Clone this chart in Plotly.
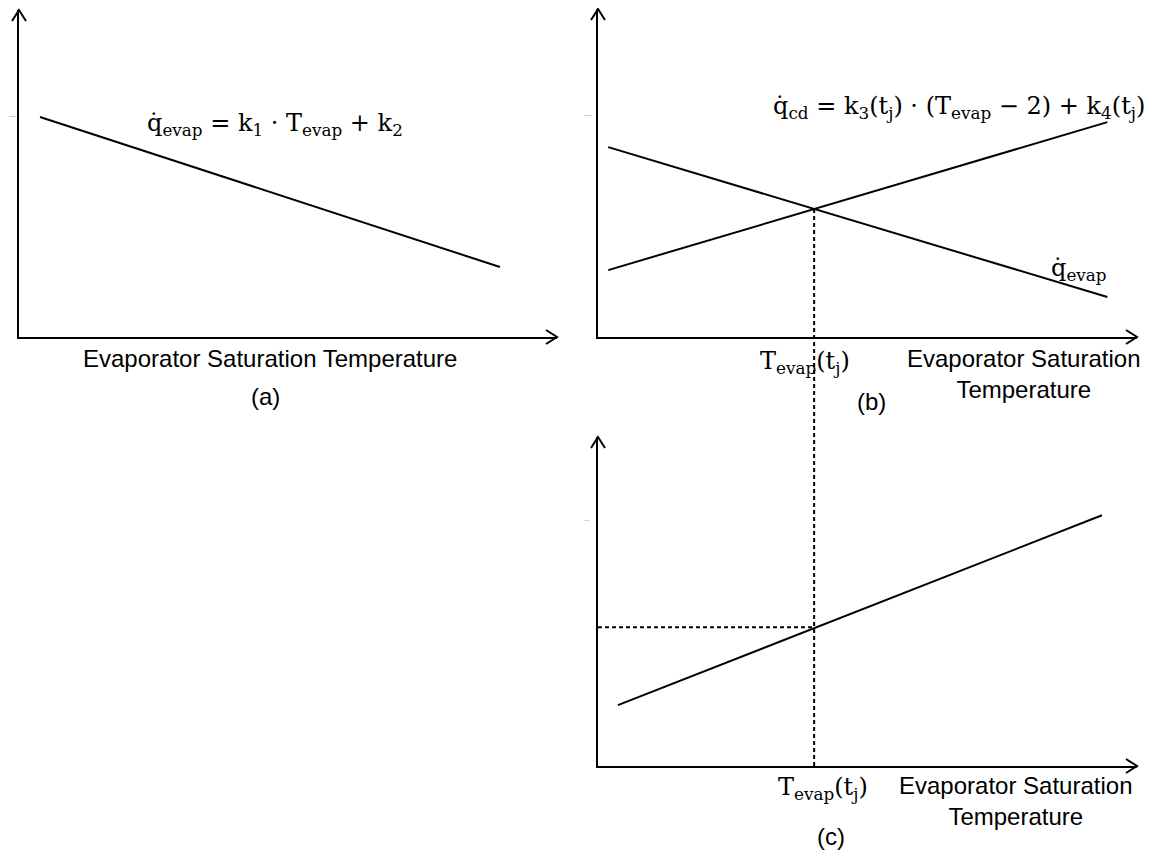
import plotly.graph_objects as go

# the page body adds an 8px margin, so the figure is drawn 8px in from the window corner
OFF = 8
W, H = 1156 - OFF, 850 - OFF

# values in arbitrary units (0-10 on both axes of every panel)
temp_a = [0.39, 8.94]
q_evap_a = [6.73, 2.14]

temp_b = [0.19, 9.45]
q_evap_b = [5.79, 1.22]
q_cd_b = [2.04, 6.55]

temp_c = [0.37, 9.35]
power_c = [1.85, 7.62]

t_j = 4.01   # balance point temperature
q_j = 3.90   # capacity at balance point
p_j = 4.22   # power at balance point

# panel frames in window pixels: left, right (x arrow tip), bottom, top (y arrow tip)
frames = {"a": (19, 557, 337, 10), "b": (598, 1137, 337, 9), "c": (598, 1137, 766, 437)}
axis_ids = {"a": ("x", "y"), "b": ("x2", "y2"), "c": ("x3", "y3")}
RNG = 10.0

SERIF = "DejaVu Serif"
SANS = "Liberation Sans"


def pp(x, y):
    # window pixel -> paper
    return (x - OFF) / W, 1 - (y - OFF) / H


def data_to_paper(panel, xv, yv):
    l, r, b, t = frames[panel]
    return pp(l + (r - l) * xv / RNG, b - (b - t) * yv / RNG)


fig = go.Figure()

line = dict(color="black", width=2)
fig.add_trace(go.Scatter(x=temp_a, y=q_evap_a, mode="lines", line=line, xaxis="x", yaxis="y"))
fig.add_trace(go.Scatter(x=temp_b, y=q_evap_b, mode="lines", line=line, xaxis="x2", yaxis="y2"))
fig.add_trace(go.Scatter(x=temp_b, y=q_cd_b, mode="lines", line=line, xaxis="x2", yaxis="y2"))
fig.add_trace(go.Scatter(x=temp_c, y=power_c, mode="lines", line=line, xaxis="x3", yaxis="y3"))

axis_style = dict(range=[0, RNG], showline=True, linecolor="black", linewidth=2,
                  showgrid=False, zeroline=False, showticklabels=False, ticks="",
                  fixedrange=True)
layout = {}
shapes = []
for k, (l, r, b, t) in frames.items():
    xa, ya = axis_ids[k]
    xkey = "xaxis" if xa == "x" else "xaxis" + xa[1:]
    ykey = "yaxis" if ya == "y" else "yaxis" + ya[1:]
    x0, y0 = pp(l, b)
    x1, y1 = pp(r, t)
    layout[xkey] = dict(axis_style, domain=[x0, x1], anchor=ya)
    layout[ykey] = dict(axis_style, domain=[y0, y1], anchor=xa)
    # open arrow heads at the axis tips
    for pts in ([(r - 11, b - 7), (r, b), (r - 11, b + 7)],
                [(l - 7, t + 11), (l, t), (l + 7, t + 11)]):
        p = [pp(*q) for q in pts]
        path = "M {} {} L {} {} L {} {}".format(p[0][0], p[0][1], p[1][0], p[1][1], p[2][0], p[2][1])
        shapes.append(dict(type="path", path=path, xref="paper", yref="paper",
                           line=dict(color="black", width=2)))

dash = dict(color="black", width=2, dash="4px,3px")
# vertical dashed from the intersection in (b) down to the axis in (c)
xv, ytop = data_to_paper("b", t_j, q_j)
_, ybot = data_to_paper("c", t_j, 0)
shapes.append(dict(type="line", xref="paper", yref="paper", x0=xv, x1=xv, y0=ybot, y1=ytop, line=dash))
# horizontal dashed in (c)
shapes.append(dict(type="line", xref="x3", yref="y3", x0=0, x1=t_j, y0=p_j, y1=p_j, line=dash))

annotations = []


def note(text, x, y, size, family, xanchor="center", color="black"):
    px_, py_ = pp(x, y)
    annotations.append(dict(text=text, x=px_, y=py_, xref="paper", yref="paper",
                            xanchor=xanchor, yanchor="middle", showarrow=False,
                            font=dict(size=size, family=family, color=color)))


qdot = "q\u0307"
note(qdot + "<sub>evap</sub> = k<sub>1</sub> \u00b7 T<sub>evap</sub> + k<sub>2</sub>",
     145, 124, 24, SERIF, "left")
note(qdot + "<sub>cd</sub> = k<sub>3</sub>(t<sub>j</sub>) \u00b7 (T<sub>evap</sub> \u2212 2) + k<sub>4</sub>(t<sub>j</sub>)",
     771, 107, 24, SERIF, "left")
note(qdot + "<sub>evap</sub>", 1049, 270, 24, SERIF, "left")
note("T<sub>evap</sub>(t<sub>j</sub>)", 758, 362, 24, SERIF, "left")
note("T<sub>evap</sub>(t<sub>j</sub>)", 776, 788, 24, SERIF, "left")

note("Evaporator Saturation Temperature", 270, 359, 24, SANS)
note("(a)", 265, 396, 24, SANS)
note("Evaporator Saturation<br>Temperature", 905, 374, 24, SANS, "left")
note("(b)", 871, 401, 24, SANS)
note("Evaporator Saturation<br>Temperature", 897, 801, 24, SANS, "left")
note("(c)", 831, 836, 24, SANS)

# tiny y-axis captions
note("Capacity", 13, 116, 2, SANS, color="#777")
note("Capacity", 588, 115, 2, SANS, color="#777")
note("Power", 587, 520, 2, SANS, color="#777")

fig.update_layout(width=W, height=H, margin=dict(l=0, r=0, t=0, b=0),
                  paper_bgcolor="white", plot_bgcolor="white", showlegend=False,
                  shapes=shapes, annotations=annotations, **layout)

fig.write_html("out.html")
